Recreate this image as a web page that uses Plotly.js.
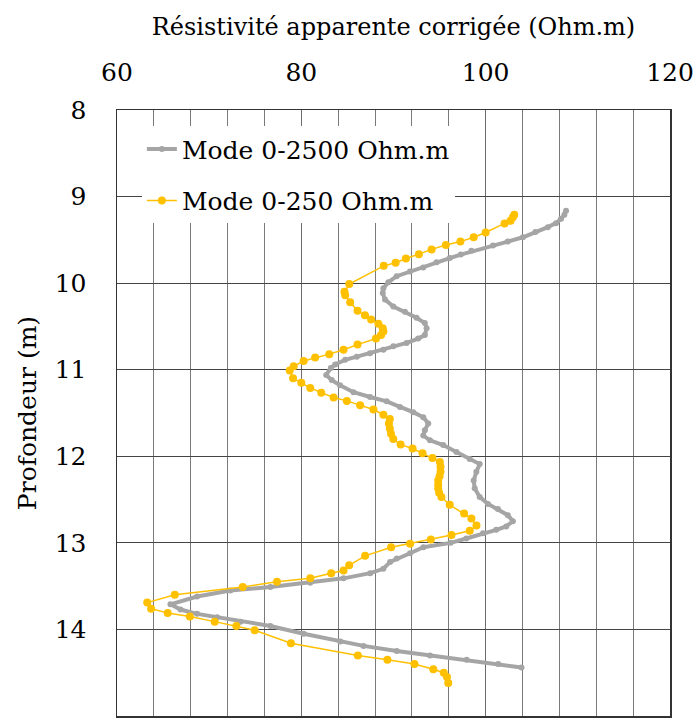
<!DOCTYPE html>
<html>
<head>
<meta charset="utf-8">
<script src="https://cdn.plot.ly/plotly-3.0.1.min.js"></script>
<style>html,body{margin:0;padding:0;background:#fff;}#chart{width:695px;height:728px;}</style>
</head>
<body>
<div id="chart"></div>
<script>
// Series "Mode 0-2500 Ohm.m" (gray)
const depth2500 = [9.164, 9.21, 9.257, 9.307, 9.353, 9.41, 9.47, 9.52, 9.565, 9.627, 9.67, 9.71, 9.76, 9.82, 9.865, 9.92, 9.99, 10.06, 10.115, 10.19, 10.27, 10.33, 10.40, 10.46, 10.52, 10.60, 10.64, 10.69, 10.73, 10.77, 10.81, 10.85, 10.885, 10.94, 10.98, 11.06, 11.12, 11.18, 11.26, 11.315, 11.365, 11.43, 11.49, 11.55, 11.62, 11.70, 11.76, 11.815, 11.87, 11.95, 12.03, 12.09, 12.18, 12.28, 12.37, 12.47, 12.55, 12.61, 12.68, 12.75, 12.81, 12.85, 12.89, 12.95, 13.00, 13.05, 13.12, 13.18, 13.22, 13.30, 13.35, 13.41, 13.46, 13.51, 13.55, 13.62, 13.71, 13.77, 13.82, 13.86, 13.91, 13.96, 14.05, 14.14, 14.19, 14.25, 14.30, 14.35, 14.40, 14.44];
const res2500 = [108.72, 108.54, 108.18, 107.64, 106.74, 105.4, 104.04, 102.4, 100.8, 98.45, 97.3, 96.11, 94.67, 93.23, 91.78, 90.34, 89.44, 88.9, 88.83, 89.08, 89.98, 91.24, 92.5, 93.4, 93.59, 93.4, 92.68, 91.42, 89.98, 88.9, 87.46, 86.02, 84.76, 83.68, 83.2, 82.7, 83.3, 84.2, 85.66, 87.46, 89.26, 90.7, 92.14, 93.23, 93.77, 93.4, 93.23, 93.95, 95.39, 96.83, 98.27, 99.35, 98.99, 98.7, 98.81, 99.35, 100.25, 101.33, 102.41, 102.95, 102.23, 101.15, 99.71, 97.9, 96.2, 93.24, 91.8, 90.35, 89.63, 88.9, 87.47, 84.58, 80.97, 76.64, 72.3, 68.69, 65.8, 66.89, 68.69, 70.86, 73.39, 76.64, 80.25, 84.22, 86.74, 90.35, 93.96, 97.93, 101.36, 103.89];

// Series "Mode 0-250 Ohm.m" (yellow)
const depth250 = [9.21, 9.24, 9.28, 9.31, 9.415, 9.47, 9.52, 9.56, 9.61, 9.665, 9.715, 9.765, 9.80, 10.01, 10.10, 10.14, 10.22, 10.32, 10.37, 10.42, 10.47, 10.52, 10.56, 10.60, 10.64, 10.71, 10.77, 10.82, 10.86, 10.90, 10.96, 11.01, 11.10, 11.15, 11.21, 11.265, 11.32, 11.36, 11.41, 11.46, 11.52, 11.57, 11.62, 11.68, 11.74, 11.80, 11.865, 11.91, 11.965, 12.02, 12.065, 12.12, 12.18, 12.23, 12.28, 12.33, 12.37, 12.42, 12.47, 12.56, 12.66, 12.72, 12.80, 12.86, 12.91, 12.96, 13.01, 13.05, 13.15, 13.26, 13.32, 13.35, 13.41, 13.45, 13.51, 13.60, 13.69, 13.76, 13.81, 13.85, 13.91, 13.96, 14.01, 14.16, 14.30, 14.35, 14.40, 14.46, 14.50, 14.55, 14.62];
const res250 = [103.1, 102.95, 102.7, 102.05, 100.0, 98.7, 97.26, 95.68, 94.13, 92.76, 91.35, 90.23, 88.94, 85.2, 84.68, 84.76, 85.3, 86.1, 86.9, 87.57, 88.36, 88.83, 88.9, 88.65, 88.1, 86.1, 84.58, 83.03, 81.5, 80.25, 79.17, 78.74, 79.1, 80.0, 80.97, 82.16, 83.5, 84.94, 86.38, 87.82, 88.9, 89.6, 89.5, 89.6, 89.73, 89.98, 90.77, 92.07, 93.15, 94.23, 95.03, 95.1, 95.1, 95.0, 94.85, 94.85, 94.85, 94.95, 95.2, 96.1, 97.66, 98.45, 99.0, 98.27, 96.29, 94.05, 91.8, 89.74, 86.92, 85.19, 84.58, 83.24, 80.97, 77.36, 73.64, 66.27, 63.28, 63.7, 65.5, 67.9, 70.6, 72.95, 74.94, 78.87, 86.13, 89.34, 92.27, 94.32, 95.45, 95.8, 95.94];

const xTitle = "Résistivité apparente corrigée (Ohm.m)";
const yTitle = "Profondeur (m)";
const name2500 = "Mode 0-2500 Ohm.m";
const name250 = "Mode 0-250 Ohm.m";

const FONT = "DejaVu Serif";
const FS = 25;

const traces = [
  {
    x: res2500, y: depth2500, name: name2500, legendgroup: "a",
    type: "scatter", mode: "lines+markers",
    line: {color: "#a5a5a5", width: 4},
    marker: {color: "#a5a5a5", size: 6, symbol: "circle"}
  },
  {
    x: res250, y: depth250, name: name250, legendgroup: "b",
    type: "scatter", mode: "lines+markers",
    line: {color: "#ffc000", width: 1.5},
    marker: {color: "#ffc000", size: 8, symbol: "circle"}
  }
];

const layout = {
  width: 695, height: 728,
  margin: {l: 117, r: 25, t: 110, b: 12, pad: 0},
  paper_bgcolor: "#ffffff", plot_bgcolor: "#ffffff",
  font: {family: FONT, color: "#000", size: FS},
  showlegend: true,
  legend: {
    x: 0.045, y: 0.973, xanchor: "left", yanchor: "top",
    bgcolor: "#ffffff", borderwidth: 0,
    font: {family: FONT, size: FS, color: "#000"},
    traceorder: "grouped", tracegroupgap: 16
  },
  xaxis: {
    side: "top", range: [60, 120], tick0: 60, dtick: 20,
    showgrid: true, gridcolor: "#6e6e6e", gridwidth: 1,
    minor: {dtick: 4, showgrid: true, gridcolor: "#7a7a7a", gridwidth: 1},
    showline: true, mirror: true, linecolor: "#333", linewidth: 1.5,
    zeroline: false, ticks: "", ticklabelstandoff: 18,
    tickfont: {family: FONT, size: FS, color: "#000"},
    title: {text: xTitle, font: {family: FONT, size: 24, color: "#000"}, standoff: 15}
  },
  yaxis: {
    range: [15, 8], tick0: 8, dtick: 1,
    showgrid: true, gridcolor: "#444", gridwidth: 1,
    showline: true, mirror: true, linecolor: "#333", linewidth: 1.5,
    zeroline: false, ticks: "", ticklabelstandoff: 24,
    tickfont: {family: FONT, size: FS, color: "#000"},
    title: {text: yTitle, font: {family: FONT, size: FS, color: "#000"}, standoff: 11}
  }
};

Plotly.newPlot("chart", traces, layout, {displayModeBar: false, staticPlot: true});
</script>
</body>
</html>
